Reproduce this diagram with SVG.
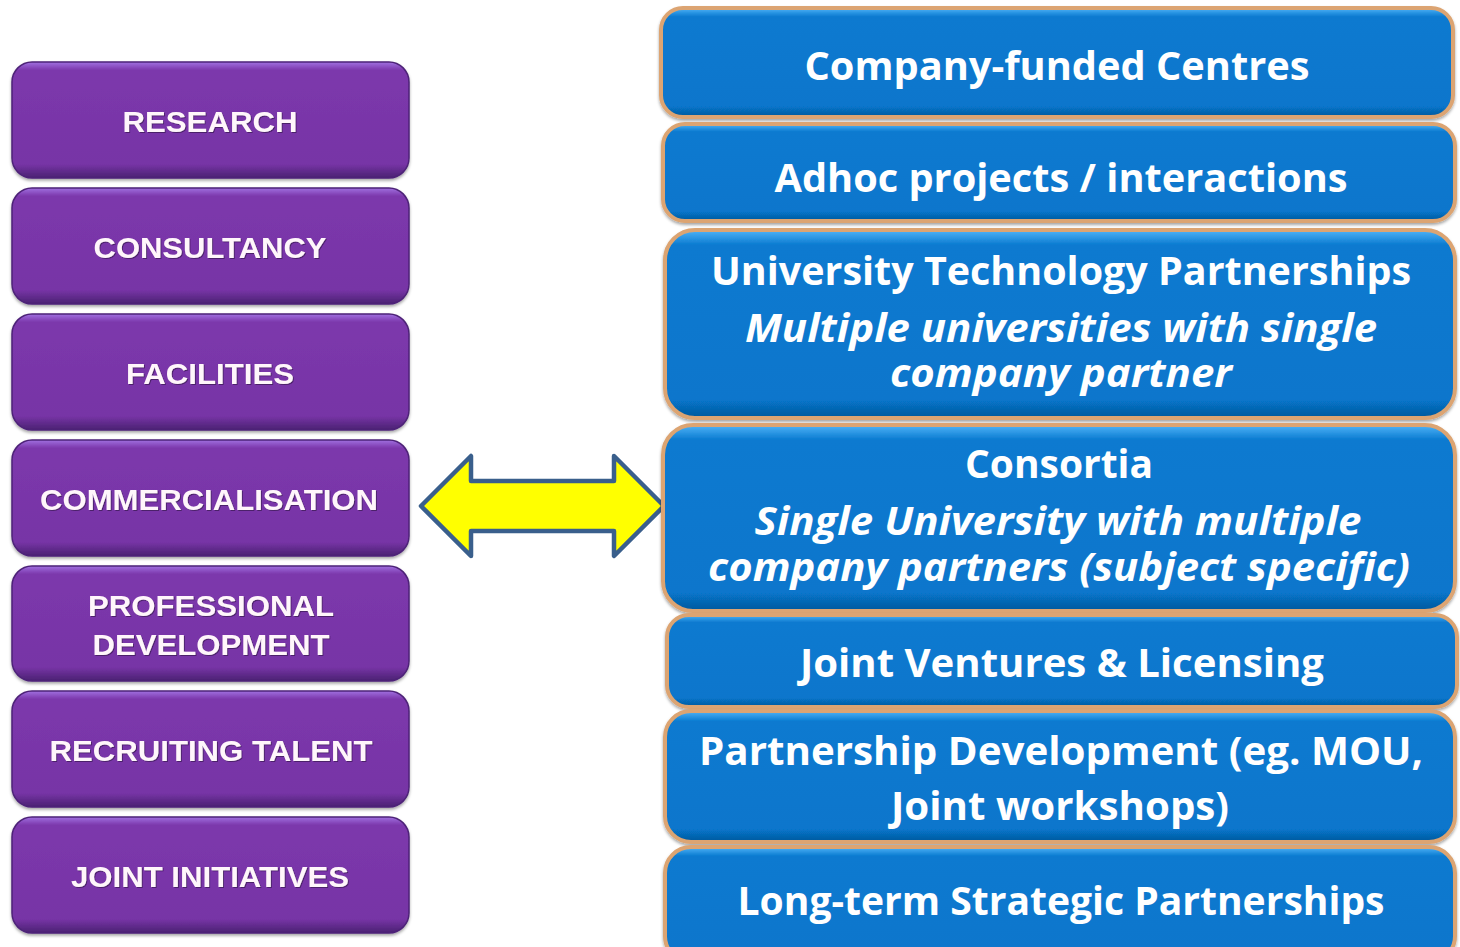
<svg xmlns="http://www.w3.org/2000/svg" width="1460" height="947" viewBox="0 0 1460 947">
<defs>
<linearGradient id="pg" x1="0" y1="0" x2="0" y2="1">
<stop offset="0" stop-color="#a070e0"/>
<stop offset="0.07" stop-color="#7c38ac"/>
<stop offset="0.88" stop-color="#7734a6"/>
<stop offset="1" stop-color="#4a2272"/>
</linearGradient>
<linearGradient id="bg" x1="0" y1="0" x2="0" y2="1">
<stop offset="0" stop-color="#50b4f8"/>
<stop offset="0.08" stop-color="#0a7ad0"/>
<stop offset="0.9" stop-color="#0776cc"/>
<stop offset="1" stop-color="#05589c"/>
</linearGradient>
<filter id="sh" x="-5%" y="-5%" width="110%" height="115%">
<feDropShadow dx="0" dy="2" stdDeviation="1.5" flood-color="#000" flood-opacity="0.35"/>
</filter>
<filter id="ts" x="-5%" y="-20%" width="110%" height="140%">
<feDropShadow dx="1" dy="1" stdDeviation="0.6" flood-color="#2a0a40" flood-opacity="0.6"/>
</filter>
</defs>
<style>
.pbox{fill:url(#pg);stroke:#4e2478;stroke-width:1.5;filter:url(#sh)}
.bbox{fill:url(#bg);stroke:#dca472;stroke-width:4;filter:url(#sh)}
.lt{font-family:"Liberation Sans",Arial,sans-serif;font-weight:bold;font-size:30px;fill:#fff6fb;text-anchor:middle;filter:url(#ts)}
.rt{font-family:"Open Sans","Noto Sans",sans-serif;font-weight:bold;font-size:39px;fill:#ffffff;text-anchor:middle}
.ri{font-style:italic}
</style>
<rect width="1460" height="947" fill="#ffffff"/>

<g id="left-research"><rect class="pbox" x="12" y="62" width="397" height="116" rx="20"/><text class="lt" x="210" y="132" textLength="175" lengthAdjust="spacingAndGlyphs">RESEARCH</text></g>
<g id="left-consultancy"><rect class="pbox" x="12" y="188" width="397" height="116" rx="20"/><text class="lt" x="210" y="258" textLength="233" lengthAdjust="spacingAndGlyphs">CONSULTANCY</text></g>
<g id="left-facilities"><rect class="pbox" x="12" y="314" width="397" height="116" rx="20"/><text class="lt" x="210" y="384" textLength="168" lengthAdjust="spacingAndGlyphs">FACILITIES</text></g>
<g id="left-commercialisation"><rect class="pbox" x="12" y="440" width="397" height="116" rx="20"/><text class="lt" x="209" y="510" textLength="338" lengthAdjust="spacingAndGlyphs">COMMERCIALISATION</text></g>
<g id="left-professional"><rect class="pbox" x="12" y="566" width="397" height="115" rx="20"/><text class="lt" x="211" y="616" textLength="246" lengthAdjust="spacingAndGlyphs">PROFESSIONAL</text><text class="lt" x="211" y="655" textLength="237" lengthAdjust="spacingAndGlyphs">DEVELOPMENT</text></g>
<g id="left-recruiting"><rect class="pbox" x="12" y="691" width="397" height="116" rx="20"/><text class="lt" x="211" y="761" textLength="323" lengthAdjust="spacingAndGlyphs">RECRUITING TALENT</text></g>
<g id="left-joint"><rect class="pbox" x="12" y="817" width="397" height="116" rx="20"/><text class="lt" x="210" y="887" textLength="278" lengthAdjust="spacingAndGlyphs">JOINT INITIATIVES</text></g>

<g id="connectors">
<path d="M421,506 L471,456 L471,481 L614,481 L614,456 L664,506 L614,556 L614,531 L471,531 L471,556 Z" fill="#ffff00" stroke="#3a5f8c" stroke-width="4.5" stroke-linejoin="round"/>
</g>

<g id="right-company"><rect class="bbox" x="661" y="8" width="792" height="109" rx="22"/><text class="rt" x="1057" y="80" textLength="505" lengthAdjust="spacingAndGlyphs">Company-funded Centres</text></g>
<g id="right-adhoc"><rect class="bbox" x="663" y="124" width="792" height="97" rx="22"/><text class="rt" x="1061" y="192" textLength="573" lengthAdjust="spacingAndGlyphs">Adhoc projects / interactions</text></g>
<g id="right-utp"><rect class="bbox" x="665" y="230" width="790" height="188" rx="30"/><text class="rt" x="1061" y="285" textLength="700" lengthAdjust="spacingAndGlyphs">University Technology Partnerships</text><text class="rt ri" x="1061" y="342" textLength="632" lengthAdjust="spacingAndGlyphs">Multiple universities with single</text><text class="rt ri" x="1061" y="387" textLength="342" lengthAdjust="spacingAndGlyphs">company partner</text></g>
<g id="right-consortia"><rect class="bbox" x="663" y="425" width="792" height="186" rx="30"/><text class="rt" x="1059" y="478" textLength="188" lengthAdjust="spacingAndGlyphs">Consortia</text><text class="rt ri" x="1058" y="535" textLength="607" lengthAdjust="spacingAndGlyphs">Single University with multiple</text><text class="rt ri" x="1059" y="581" textLength="702" lengthAdjust="spacingAndGlyphs">company partners (subject specific)</text></g>
<g id="right-jv"><rect class="bbox" x="667" y="615" width="790" height="92" rx="22"/><text class="rt" x="1062" y="677" textLength="524" lengthAdjust="spacingAndGlyphs">Joint Ventures &amp; Licensing</text></g>
<g id="right-pd"><rect class="bbox" x="665" y="711" width="790" height="131" rx="26"/><text class="rt" x="1061" y="765" textLength="724" lengthAdjust="spacingAndGlyphs">Partnership Development (eg. MOU,</text><text class="rt" x="1060" y="820" textLength="338" lengthAdjust="spacingAndGlyphs">Joint workshops)</text></g>
<g id="right-lt"><rect class="bbox" x="665" y="847" width="790" height="115" rx="26"/><text class="rt" x="1061" y="915" textLength="647" lengthAdjust="spacingAndGlyphs">Long-term Strategic Partnerships</text></g>
</svg>
